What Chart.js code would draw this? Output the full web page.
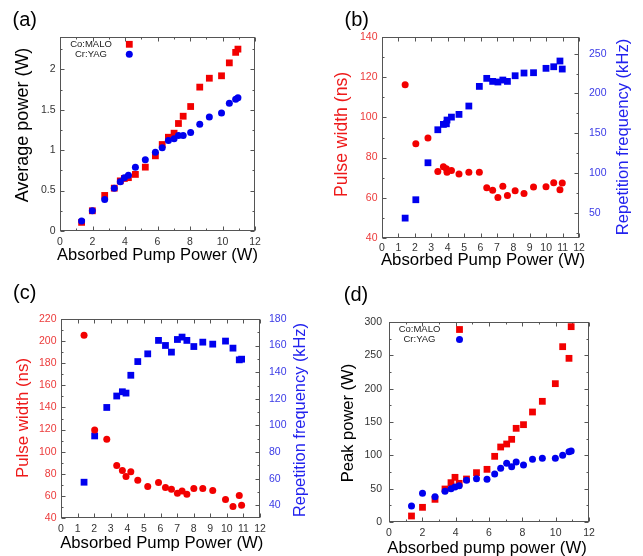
<!DOCTYPE html>
<html><head><meta charset="utf-8">
<script src="https://cdn.jsdelivr.net/npm/chart.js"></script>
<style>
html,body{margin:0;padding:0;background:#fff;}
#wrap{position:relative;width:643px;height:556px;overflow:hidden;background:#fff;}
canvas{position:absolute;}
</style></head><body>
<div id="wrap">
<canvas id="ca" width="321" height="278" style="left:0;top:0"></canvas>
<canvas id="cb" width="323" height="278" style="left:320px;top:0"></canvas>
<canvas id="cc" width="321" height="278" style="left:0;top:278px"></canvas>
<canvas id="cd" width="323" height="278" style="left:320px;top:278px"></canvas>
</div>
<script>
// ---------- DATA ----------
// (a) average power vs absorbed pump power
const aPump   = [1.33, 1.99, 2.75, 3.34, 3.71, 3.96, 4.21, 4.64, 5.25, 5.87, 6.29, 6.67, 7.02, 7.29, 7.58, 8.04, 8.60, 9.19, 9.94, 10.42, 10.81, 10.95];
const aCoMALO = [0.107, 0.25, 0.44, 0.53, 0.62, 0.65, 0.66, 0.70, 0.79, 0.93, 1.07, 1.16, 1.21, 1.33, 1.42, 1.54, 1.78, 1.89, 1.92, 2.08, 2.21, 2.25];
const aCrYAG  = [0.123, 0.25, 0.39, 0.53, 0.61, 0.66, 0.69, 0.79, 0.88, 0.975, 1.03, 1.12, 1.14, 1.18, 1.18, 1.22, 1.32, 1.41, 1.46, 1.58, 1.63, 1.65];
const aXTicks = [0, 2, 4, 6, 8, 10, 12];
const aYTicks = [0, 0.5, 1, 1.5, 2];

// (b) Co:MALO pulse width & repetition frequency
const bPump      = [1.41, 2.06, 2.80, 3.40, 3.74, 3.92, 3.96, 4.23, 4.69, 5.29, 5.93, 6.38, 6.74, 7.06, 7.36, 7.64, 8.11, 8.65, 9.23, 9.99, 10.46, 10.84, 10.98];
const bPulseNs   = [116.3, 86.9, 89.7, 73.1, 75.4, 74.4, 72.7, 73.6, 71.9, 72.7, 72.7, 65.0, 63.7, 60.2, 65.7, 61.2, 63.5, 62.2, 65.4, 65.5, 67.5, 64.0, 67.4];
const bRepKHz    = [43.3, 66.4, 112.9, 154.4, 161.1, 161.9, 166.6, 170.3, 173.7, 184.2, 208.9, 219.0, 215.2, 214.4, 216.9, 215.2, 222.3, 225.7, 226.1, 231.6, 233.6, 240.8, 230.7];
const bXTicks    = [0,1,2,3,4,5,6,7,8,9,10,11,12];
const bPulseTicks= [40, 60, 80, 100, 120, 140];
const bRepTicks  = [50, 100, 150, 200, 250];

// (c) Cr:YAG pulse width & repetition frequency
const cPump      = [1.39, 2.03, 2.76, 3.36, 3.70, 3.92, 4.21, 4.63, 5.23, 5.88, 6.30, 6.66, 7.02, 7.30, 7.59, 8.01, 8.55, 9.15, 9.92, 10.37, 10.75, 10.89];
const cPulseNs   = [205.2, 119.7, 111.2, 87.6, 83.0, 77.6, 81.8, 74.1, 68.5, 72.1, 67.6, 66.1, 62.4, 64.5, 61.5, 66.7, 66.7, 64.8, 56.7, 50.3, 60.3, 51.5];
const cRepKHz    = [57.3, 92.1, 113.5, 122.1, 125.3, 124.3, 137.7, 148.0, 153.8, 163.9, 160.1, 155.1, 164.6, 166.4, 163.9, 159.3, 162.6, 161.1, 163.4, 158.1, 149.3, 149.8];
const cXTicks    = [0,1,2,3,4,5,6,7,8,9,10,11,12];
const cPulseTicks= [40, 60, 80, 100, 120, 140, 160, 180, 200, 220];
const cRepTicks  = [40, 60, 80, 100, 120, 140, 160, 180];

// (d) peak power
const dPump   = [1.35, 2.01, 2.76, 3.36, 3.72, 3.96, 4.21, 4.65, 5.25, 5.88, 6.34, 6.70, 7.06, 7.36, 7.63, 8.07, 8.61, 9.20, 9.98, 10.42, 10.80, 10.93];
const dCoMALO = [9, 22, 34, 49.5, 59, 67, 58, 64.5, 74, 79, 98.5, 112.5, 117, 124, 140.5, 146, 165, 181, 207.5, 263, 245.5, 293];
const dCrYAG  = [24, 43, 38, 46, 50, 52.5, 54.5, 62.5, 65, 64, 72, 80.5, 88, 83, 90, 85.5, 94, 95.5, 95.5, 100, 105.5, 106.5];
const dXTicks = [0, 2, 4, 6, 8, 10, 12];
const dYTicks = [0, 50, 100, 150, 200, 250, 300];

// ---------- STYLE ----------
const FONT = "'Liberation Sans', Arial, Helvetica, sans-serif";
Chart.defaults.font.family = FONT;
Chart.defaults.animation = false;
const RED = '#f20000', BLUE = '#0000ee';
const RED_TXT = '#ee1a1a', BLUE_TXT = '#2222ee';
const RED_TICK = '#ec3a3a', BLUE_TICK = '#3a3ae6';
const DARK_TICK = '#333';
const SQ_R = 4.8, CI_R = 3.5;

const framePlugin = {
  id: 'frameTicks',
  beforeDatasetsDraw(chart, args, o) {
    if (!o || !o.axes) return;
    const ctx = chart.ctx, a = chart.chartArea;
    const L = Math.round(a.left) + 0.5, R = Math.round(a.right) - 0.5;
    const T = Math.round(a.top) + 0.5, B = Math.round(a.bottom) - 0.5;
    ctx.save();
    ctx.strokeStyle = o.color || '#666';
    ctx.lineWidth = 1;
    ctx.strokeRect(L, T, R - L, B - T);
    o.axes.forEach(ax => {
      const s = chart.scales[ax.id];
      const majors = s.ticks.map(t => t.value);
      const draw = (v, len) => {
        const p = Math.round(s.getPixelForValue(v)) + 0.5;
        ctx.beginPath();
        ax.edges.forEach(e => {
          if (e === 'bottom') { ctx.moveTo(p, B); ctx.lineTo(p, B - len); }
          if (e === 'top') { ctx.moveTo(p, T); ctx.lineTo(p, T + len); }
          if (e === 'left') { ctx.moveTo(L, p); ctx.lineTo(L + len, p); }
          if (e === 'right') { ctx.moveTo(R, p); ctx.lineTo(R - len, p); }
        });
        ctx.stroke();
      };
      majors.forEach(v => draw(v, o.major || 4));
      if (ax.minor) {
        for (let k = Math.ceil(s.min / ax.minor - 1e-9); k * ax.minor <= s.max + 1e-9; k++) {
          const v = k * ax.minor;
          if (!majors.some(m => Math.abs(m - v) < 1e-6)) draw(v, o.minorLen || 2);
        }
      }
    });
    ctx.restore();
  }
};

const textPlugin = {
  id: 'texts',
  afterDraw(chart, args, o) {
    if (!o || !o.items) return;
    const ctx = chart.ctx;
    o.items.forEach(it => {
      ctx.save();
      ctx.translate(it.x, it.y);
      if (it.rot) ctx.rotate(it.rot * Math.PI / 180);
      ctx.font = it.size + 'px ' + FONT;
      ctx.fillStyle = it.color || '#000';
      ctx.textAlign = 'center';
      ctx.textBaseline = 'middle';
      ctx.fillText(it.text, 0, 0);
      ctx.restore();
    });
  }
};

const legendPlugin = {
  id: 'insideLegend',
  afterDatasetsDraw(chart, args, o) {
    if (!o || !o.display) return;
    const ctx = chart.ctx, a = chart.chartArea;
    chart.data.datasets.forEach((ds, i) => {
      const y = a.top + o.top + i * o.rowGap;
      ctx.save();
      ctx.font = o.size + 'px ' + FONT;
      ctx.fillStyle = o.color;
      ctx.textAlign = 'center';
      ctx.textBaseline = 'middle';
      ctx.fillText(ds.label, a.left + o.textX, y);
      const mx = a.left + o.markerX;
      ctx.fillStyle = ds.backgroundColor;
      if (ds.pointStyle === 'rect') {
        const h = ds.pointRadius * Math.SQRT1_2;
        ctx.fillRect(mx - h, y - h, 2 * h, 2 * h);
      } else {
        ctx.beginPath(); ctx.arc(mx, y, ds.pointRadius, 0, 2 * Math.PI); ctx.fill();
      }
      ctx.restore();
    });
  }
};
Chart.register(framePlugin, textPlugin, legendPlugin);

function axis(cfg) {
  return {
    type: 'linear', position: cfg.position, min: cfg.min, max: cfg.max,
    afterBuildTicks: s => { s.ticks = cfg.ticks.map(v => ({ value: v })); },
    afterFit: s => { if (cfg.position === 'bottom') s.height = cfg.size; else s.width = cfg.size; },
    grid: { display: false, drawTicks: false },
    border: { display: false },
    title: { display: false },
    ticks: { padding: cfg.pad, color: cfg.color, font: { size: 10.5 }, autoSkip: false,
             maxRotation: 0, minRotation: 0, callback: v => String(v) }
  };
}
const pts = (xs, ys) => xs.map((x, i) => ({ x: x, y: ys[i] }));
function ds(label, xs, ys, color, style, order, yAxisID) {
  return { label: label, data: pts(xs, ys), backgroundColor: color, borderColor: color,
           pointStyle: style, pointRadius: style === 'rect' ? SQ_R : CI_R,
           pointHoverRadius: style === 'rect' ? SQ_R : CI_R, pointBorderWidth: 0,
           showLine: false, order: order, yAxisID: yAxisID || 'y' };
}
function baseOpts(padding, scales, frameAxes, texts, legend) {
  return {
    responsive: false, animation: false, events: [],
    layout: { padding: padding },
    scales: scales,
    plugins: {
      legend: { display: false }, tooltip: { enabled: false },
      frameTicks: { color: '#555', major: 4, minorLen: 2, axes: frameAxes },
      texts: { items: texts },
      insideLegend: legend || { display: false }
    }
  };
}

// ---------- (a) ----------
new Chart(document.getElementById('ca'), {
  type: 'scatter',
  data: { datasets: [
    ds('Co:MALO', aPump, aCoMALO, RED, 'rect', 2),
    ds('Cr:YAG', aPump, aCrYAG, BLUE, 'circle', 1)
  ]},
  options: baseOpts({ top: 37, right: 66, bottom: 0, left: 0 }, {
      x: axis({ position: 'bottom', min: 0, max: 12, ticks: aXTicks, size: 47, pad: 4.5, color: DARK_TICK }),
      y: axis({ position: 'left', min: 0, max: 2.4, ticks: aYTicks, size: 60, pad: 4.5, color: DARK_TICK })
    },
    [{ id: 'x', edges: ['bottom', 'top'], minor: 1 }, { id: 'y', edges: ['left', 'right'], minor: 0.25 }],
    [
      { text: '(a)', x: 24.7, y: 20, size: 20 },
      { text: 'Absorbed Pump Power (W)', x: 157.5, y: 255, size: 16.5 },
      { text: 'Average power (W)', x: 23, y: 125, size: 18, rot: -90 }
    ],
    { display: true, top: 7.3, rowGap: 10, textX: 31, markerX: 69.3, size: 9.5, color: '#222' })
});

// ---------- (b) ----------
new Chart(document.getElementById('cb'), {
  type: 'scatter',
  data: { datasets: [
    ds('Pulse width', bPump, bPulseNs, RED, 'circle', 1, 'y'),
    ds('Repetition frequency', bPump, bRepKHz, BLUE, 'rect', 2, 'y2')
  ]},
  options: baseOpts({ top: 37, right: 0, bottom: 0, left: 0 }, {
      x: axis({ position: 'bottom', min: 0, max: 12, ticks: bXTicks, size: 40, pad: 4, color: DARK_TICK }),
      y: axis({ position: 'left', min: 40, max: 140, ticks: bPulseTicks, size: 62, pad: 4.5, color: RED_TICK }),
      y2: axis({ position: 'right', min: 18.3, max: 271, ticks: bRepTicks, size: 64, pad: 10, color: BLUE_TICK })
    },
    [{ id: 'x', edges: ['bottom', 'top'] }, { id: 'y', edges: ['left'], minor: 10 }, { id: 'y2', edges: ['right'], minor: 25 }],
    [
      { text: '(b)', x: 36.7, y: 20, size: 20 },
      { text: 'Absorbed Pump Power (W)', x: 163, y: 260, size: 16.8 },
      { text: 'Pulse width (ns)', x: 21.7, y: 134.5, size: 17.6, rot: -90, color: RED_TXT },
      { text: 'Repetition frequency (kHz)', x: 303.5, y: 137, size: 16.6, rot: -90, color: BLUE_TXT }
    ])
});

// ---------- (c) ----------
new Chart(document.getElementById('cc'), {
  type: 'scatter',
  data: { datasets: [
    ds('Pulse width', cPump, cPulseNs, RED, 'circle', 1, 'y'),
    ds('Repetition frequency', cPump, cRepKHz, BLUE, 'rect', 2, 'y2')
  ]},
  options: baseOpts({ top: 41, right: 0, bottom: 0, left: 0 }, {
      x: axis({ position: 'bottom', min: 0, max: 12, ticks: cXTicks, size: 38, pad: 4.5, color: DARK_TICK }),
      y: axis({ position: 'left', min: 40, max: 220, ticks: cPulseTicks, size: 61, pad: 4.5, color: RED_TICK }),
      y2: axis({ position: 'right', min: 30.4, max: 180, ticks: cRepTicks, size: 61, pad: 9, color: BLUE_TICK })
    },
    [{ id: 'x', edges: ['bottom', 'top'] }, { id: 'y', edges: ['left'], minor: 10 }, { id: 'y2', edges: ['right'], minor: 10 }],
    [
      { text: '(c)', x: 24.7, y: 15, size: 20 },
      { text: 'Absorbed Pump Power (W)', x: 161.7, y: 265, size: 16.7 },
      { text: 'Pulse width (ns)', x: 23.3, y: 140, size: 16.9, rot: -90, color: RED_TXT },
      { text: 'Repetition frequency (kHz)', x: 300, y: 142, size: 16.4, rot: -90, color: BLUE_TXT }
    ])
});

// ---------- (d) ----------
new Chart(document.getElementById('cd'), {
  type: 'scatter',
  data: { datasets: [
    ds('Co:MALO', dPump, dCoMALO, RED, 'rect', 2),
    ds('Cr:YAG', dPump, dCrYAG, BLUE, 'circle', 1)
  ]},
  options: baseOpts({ top: 44, right: 54, bottom: 0, left: 0 }, {
      x: axis({ position: 'bottom', min: 0, max: 12, ticks: dXTicks, size: 34, pad: 5, color: DARK_TICK }),
      y: axis({ position: 'left', min: 0, max: 300, ticks: dYTicks, size: 69, pad: 7, color: DARK_TICK })
    },
    [{ id: 'x', edges: ['bottom', 'top'], minor: 1 }, { id: 'y', edges: ['left', 'right'], minor: 25 }],
    [
      { text: '(d)', x: 36, y: 17, size: 20 },
      { text: 'Absorbed pump power (W)', x: 167, y: 270, size: 16.7 },
      { text: 'Peak power (W)', x: 28.3, y: 145, size: 16.5, rot: -90 }
    ],
    { display: true, top: 7.5, rowGap: 10, textX: 30.5, markerX: 70.5, size: 9.5, color: '#222' })
});
</script>
</body></html>
